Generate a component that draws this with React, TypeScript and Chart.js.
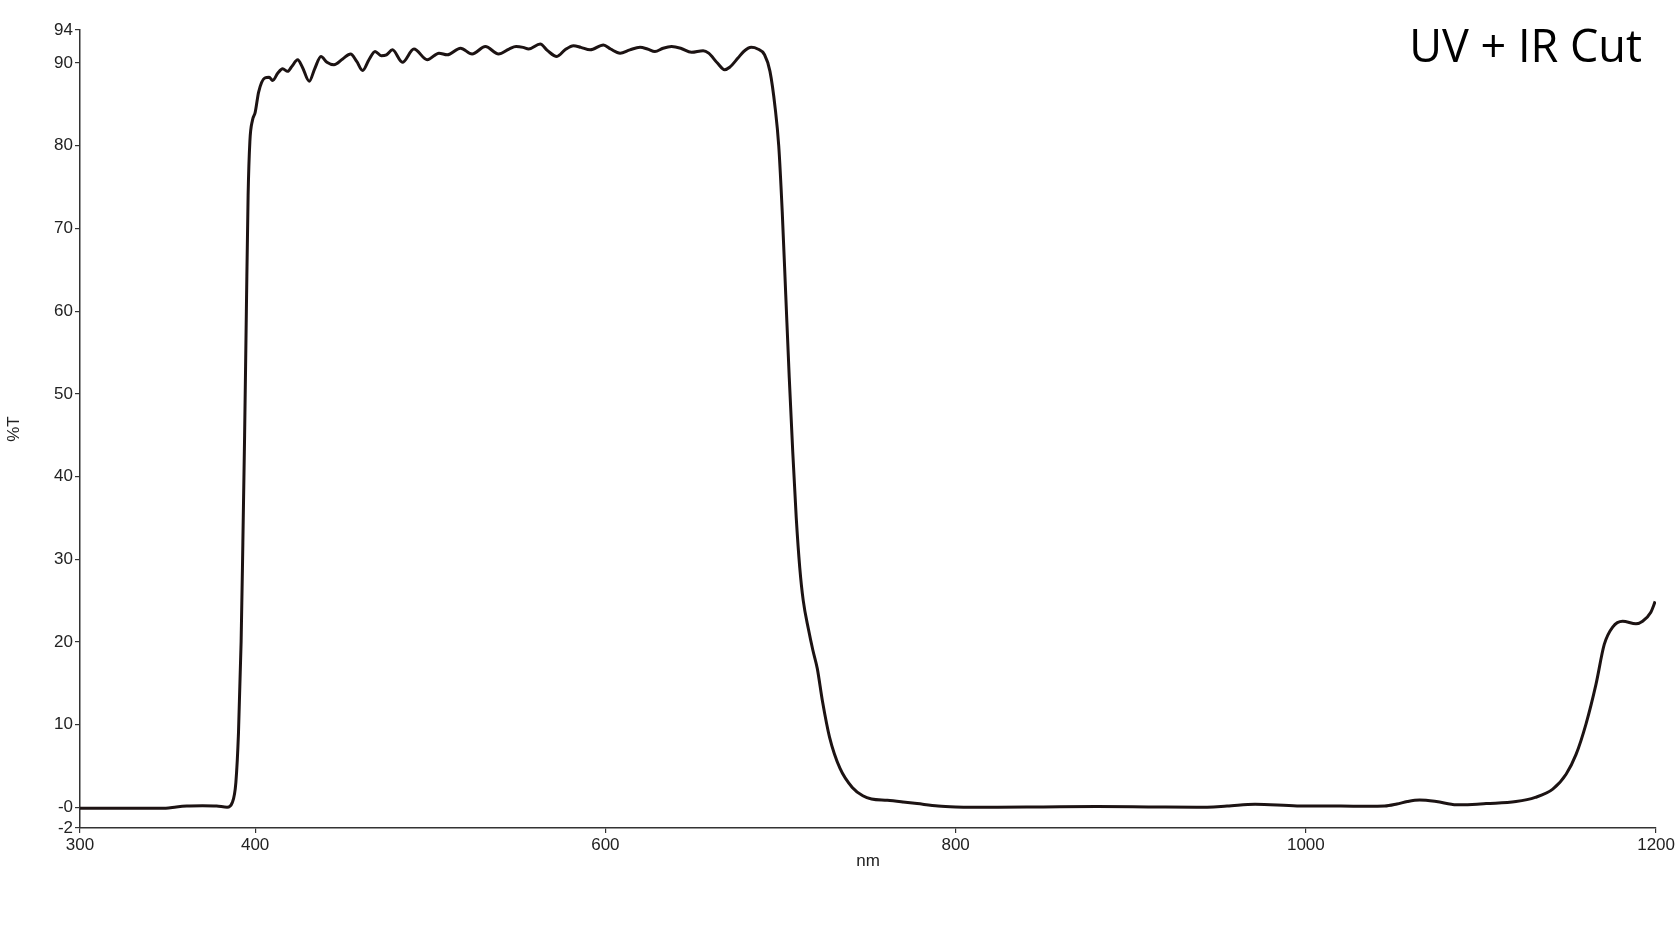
import { useEffect, useRef } from 'react';
import { Chart, registerables } from 'chart.js';

Chart.register(...registerables);

// wavelength (nm) and transmittance (%T)
const wavelengths = [
  300, 320, 340, 349, 355, 361, 370, 378, 384, 387, 389, 390.5, 392, 393, 394, 395, 396, 397, 398.5,
  400, 402, 405.5, 408, 410, 413, 415.7, 418.6, 421, 424.3, 427, 430.9, 434, 437.6, 441, 445, 450,
  454.5, 458, 461.4, 465, 468.5, 472, 475, 478.4, 484.1, 490.7, 498.3, 505, 509.7, 517.3, 523.9,
  531.5, 539, 545, 549, 553, 556.2, 562.8, 567, 572.3, 577, 581.8, 586, 591.3, 598.9, 603, 608.4,
  614, 619.8, 624, 628.3, 633, 637.8, 643, 649.2, 655.8, 659, 664, 668.1, 671, 675.7, 679, 683.3,
  687, 690.9, 694, 697, 699, 701, 703, 705, 707, 709, 711, 713, 716, 718.5, 721, 724, 728, 734, 741,
  747, 752, 761, 770, 778, 790, 800, 824, 850, 881, 910, 938, 955, 971, 995, 1020, 1035, 1045, 1052,
  1058, 1065, 1074.5, 1086, 1095, 1103, 1120, 1131, 1141, 1148.6, 1154.3, 1160, 1165.7, 1170.4,
  1175.2, 1180.9, 1188.5, 1192.3, 1197, 1199.5,
];

const transmittance = [
  -0.1, -0.1, -0.1, -0.1, 0.05, 0.15, 0.18, 0.15, 0.02, 0.6, 3, 9, 20, 32, 45, 60, 74, 80.5, 83.1,
  84, 86.5, 88.2, 88.3, 87.9, 88.8, 89.3, 89.0, 89.6, 90.4, 89.5, 87.8, 89.3, 90.8, 90.1, 89.8, 90.5,
  91.1, 90.2, 89.1, 90.4, 91.4, 90.9, 91.0, 91.6, 90.1, 91.7, 90.4, 91.2, 91.0, 91.8, 91.1,
  92.0, 91.1, 91.7, 92.0, 91.9, 91.7, 92.3, 91.5, 90.8, 91.6, 92.1, 91.9, 91.6, 92.2, 91.7, 91.2,
  91.6, 91.9, 91.7, 91.4, 91.8, 92.0, 91.8, 91.3, 91.5, 91.2, 90.0, 89.2, 89.5, 90.6, 91.4, 91.9,
  91.7, 91.0, 89.0, 84.5, 80, 72, 62, 52, 43, 35, 29, 25, 21.5, 19, 16.8, 12.8, 8.5, 4.7, 2.4,
  1.4, 1.0, 0.85, 0.65, 0.45, 0.15, 0.05, 0, 0.05, 0.1, 0.05, 0, 0.15, 0.37, 0.17, 0.15, 0.12, 0.15, 0.4,
  0.7, 0.88, 0.7, 0.3, 0.35, 0.45, 0.7, 1.2, 2.2, 4.0, 6.4, 10.1, 14.9, 19.7,
  21.8, 22.5, 22.2, 22.5, 23.6, 24.9,
];

const xTicks = [300, 400, 600, 800, 1000, 1200];
const yTicks = [-2.5, 0, 10, 20, 30, 40, 50, 60, 70, 80, 90, 94];
const yTickLabels = ['-2', '-0', '10', '20', '30', '40', '50', '60', '70', '80', '90', '94'];

const chartTitle = 'UV + IR Cut';

const tickFont = { family: "'Liberation Sans', Arial, sans-serif", size: 17 };

export default function App() {
  const canvasRef = useRef<HTMLCanvasElement>(null);
  const chartRef = useRef<Chart | null>(null);

  useEffect(() => {
    document.body.style.margin = '0';
    if (!canvasRef.current) return;
    if (chartRef.current) chartRef.current.destroy();
    const ctx = canvasRef.current.getContext('2d');
    if (!ctx) return;

    // corner label, drawn after the datasets
    const titlePlugin = {
      id: 'cornerTitle',
      afterDraw(chart: Chart) {
        const c = chart.ctx;
        c.save();
        c.font = "45px 'Open Sans', sans-serif";
        c.fillStyle = '#000';
        c.textAlign = 'right';
        c.textBaseline = 'alphabetic';
        c.fillText(chartTitle, 1642, 62);
        c.restore();
      },
    };

    chartRef.current = new Chart(ctx, {
      type: 'line',
      data: {
        datasets: [
          {
            label: '%T',
            data: wavelengths.map((w, i) => ({ x: w, y: transmittance[i] })),
            borderColor: '#1c1313',
            borderWidth: 3,
            pointRadius: 0,
            fill: false,
            cubicInterpolationMode: 'monotone',
          },
        ],
      },
      options: {
        animation: false,
        responsive: false,
        maintainAspectRatio: false,
        layout: { padding: { top: 30, right: 18, bottom: 47, left: 0 } },
        plugins: {
          legend: { display: false },
          tooltip: { enabled: false },
        },
        scales: {
          x: {
            type: 'linear',
            min: 300,
            max: 1200,
            afterBuildTicks: (axis: any) => {
              axis.ticks = xTicks.map((v) => ({ value: v }));
            },
            afterFit: (axis: any) => {
              axis.height = 50;
            },
            ticks: {
              font: tickFont,
              color: '#222',
              padding: 2,
              maxRotation: 0,
              autoSkip: false,
              callback: (v: any) => String(v),
            },
            grid: { drawOnChartArea: false, drawTicks: true, tickLength: 5, color: '#333', lineWidth: 1.2 },
            border: { display: true, color: '#333', width: 1.5 },
            title: {
              display: true,
              text: 'nm',
              font: tickFont,
              color: '#222',
              padding: { top: 0, bottom: 6 },
            },
          },
          y: {
            type: 'linear',
            min: -2.5,
            max: 94,
            afterBuildTicks: (axis: any) => {
              axis.ticks = yTicks.map((v) => ({ value: v }));
            },
            afterFit: (axis: any) => {
              axis.width = 80;
            },
            ticks: {
              font: tickFont,
              color: '#222',
              padding: 2,
              autoSkip: false,
              callback: (v: any) => {
                const i = yTicks.indexOf(Number(v));
                return i >= 0 ? yTickLabels[i] : '';
              },
            },
            grid: { drawOnChartArea: false, drawTicks: true, tickLength: 5, color: '#333', lineWidth: 1.2 },
            border: { display: true, color: '#333', width: 1.5 },
            title: {
              display: true,
              text: '%T',
              font: tickFont,
              color: '#222',
              padding: 4,
            },
          },
        },
      },
      plugins: [titlePlugin],
    });

    return () => {
      if (chartRef.current) {
        chartRef.current.destroy();
        chartRef.current = null;
      }
    };
  }, []);

  return (
    <div style={{ width: 1677, height: 925, position: 'relative', background: '#fff' }}>
      <canvas ref={canvasRef} width={1677} height={925} style={{ display: 'block' }} />
    </div>
  );
}
